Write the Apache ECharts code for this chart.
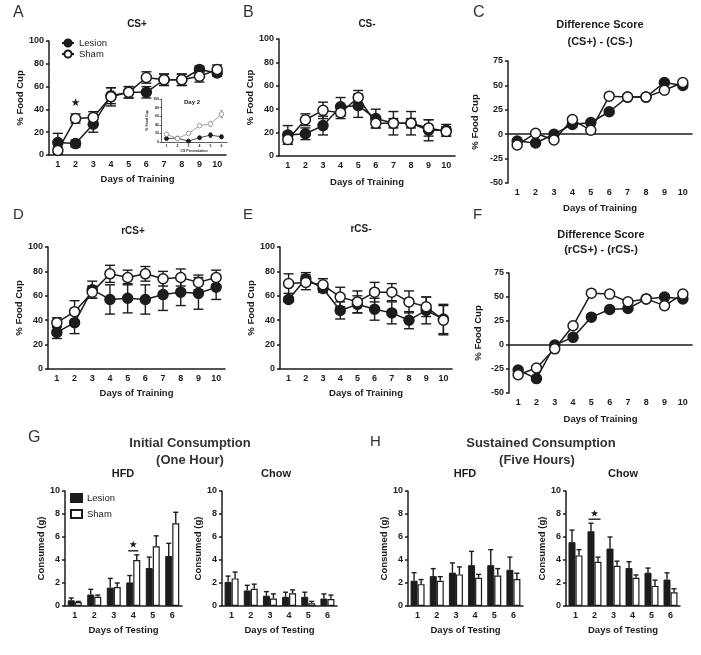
<!DOCTYPE html>
<html><head><meta charset="utf-8">
<script src="https://cdn.jsdelivr.net/npm/echarts@6/dist/echarts.min.js"></script>
<style>html,body{margin:0;padding:0;background:#fff}#c{width:701px;height:655px}</style>
</head><body><div id="c"></div>
<script>
// ---------- categories ----------
const trainingDays = ['1','2','3','4','5','6','7','8','9','10'];
const testingDays = ['1','2','3','4','5','6'];
const csPresentations = ['1','2','3','4','5','6'];
const groupNames = ['Lesion', 'Sham'];

// ---------- A: CS+ ----------
const csPlusLesion = [11,10,27,52,55,55,66,66,75,72];
const csPlusLesionErr = [8,3,7,7,5,5,5,5,3,3];
const csPlusSham = [4,32,33,51,55,68,66,66,69,75];
const csPlusShamErr = [3,4,5,8,5,5,5,5,5,4];
const csPlusSig = [[1, 46]];
// inset: Day 2 by CS presentation
const day2Lesion = [8,9,2,10,16,12];
const day2LesionErr = [3,3,2,3,5,4];
const day2Sham = [18,8,20,38,42,65];
const day2ShamErr = [4,3,3,3,5,8];

// ---------- B: CS- ----------
const csMinusLesion = [18,19,26,42,43,32,28,28,22,22];
const csMinusLesionErr = [8,5,8,8,10,8,10,10,9,5];
const csMinusSham = [14,31,39,37,50,28,28,28,24,21];
const csMinusShamErr = [4,5,7,5,6,4,4,4,7,4];

// ---------- C: difference ----------
const diffLesion = [-7,-9,0,10,12,23,38,38,53,50];
const diffSham = [-11,1,-6,15,4,39,38,38,45,53];

// ---------- D: rCS+ ----------
const rcsPlusLesion = [30,38,65,57,58,57,61,63,62,67];
const rcsPlusLesionErr = [5,9,7,12,12,12,13,11,13,10];
const rcsPlusSham = [38,47,63,78,75,78,74,75,71,75];
const rcsPlusShamErr = [4,9,5,7,6,6,6,7,6,6];

// ---------- E: rCS- ----------
const rcsMinusLesion = [57,74,66,48,53,49,46,40,48,41];
const rcsMinusLesionErr = [2,5,3,7,7,9,9,7,11,12];
const rcsMinusSham = [70,71,69,59,55,63,63,55,51,40];
const rcsMinusShamErr = [8,6,5,8,9,8,7,9,8,12];

// ---------- F: reversal difference ----------
const rdiffLesion = [-26,-35,0,8,29,37,38,48,50,48];
const rdiffSham = [-31,-24,-4,20,54,53,45,48,41,53];

// ---------- G: initial consumption (1 h) ----------
const g1hHfdLesion = [0.5,1.0,1.6,2.05,3.3,4.35];
const g1hHfdLesionErr = [0.2,0.45,0.8,0.6,0.95,1.1];
const g1hHfdSham = [0.35,0.8,1.65,4.0,5.2,7.2];
const g1hHfdShamErr = [0.05,0.15,0.35,0.45,0.9,0.95];
const g1hHfdSig = [[3, 4.8, 5.35]];
const g1hChowLesion = [2.1,1.35,0.9,0.8,0.8,0.65];
const g1hChowLesionErr = [0.5,0.45,0.35,0.4,0.4,0.4];
const g1hChowSham = [2.4,1.5,0.65,1.1,0.25,0.6];
const g1hChowShamErr = [0.55,0.4,0.4,0.3,0.15,0.35];

// ---------- H: sustained consumption (5 h) ----------
const h5hHfdLesion = [2.2,2.6,2.9,3.55,3.55,3.15];
const h5hHfdLesionErr = [0.7,0.65,0.85,1.2,1.35,1.1];
const h5hHfdSham = [1.9,2.2,2.75,2.45,2.65,2.35];
const h5hHfdShamErr = [0.4,0.35,0.65,0.3,0.6,0.5];
const h5hChowLesion = [5.55,6.5,5.0,3.3,2.9,2.3];
const h5hChowLesionErr = [1.05,0.7,1.0,0.55,0.4,0.58];
const h5hChowSham = [4.4,3.85,3.5,2.45,1.75,1.2];
const h5hChowShamErr = [0.5,0.4,0.4,0.25,0.5,0.3];
const h5hChowSig = [[1, 7.55, 8.05]];

// ---------- tick settings ----------
const pctTicks = {min: 0, max: 100, interval: 20};
const diffTicks = {min: -50, max: 75, interval: 25};
const gramTicks = {min: 0, max: 10, interval: 2};

// ---------- building ----------
const FONT = '"Liberation Sans", Arial, Helvetica, sans-serif';
const INK = '#1c1c1c';
const grids = [], xAxes = [], yAxes = [], series = [], graphics = [], legends = [];

function addPanel(c) {
  const gi = grids.length;
  const aw = c.axisW || 1.5;
  const fs = c.fs || 9;
  grids.push({left: c.left, top: c.top, width: c.width, height: c.height, containLabel: false});
  xAxes.push({
    type: 'category', gridIndex: gi, data: c.cats, boundaryGap: true,
    name: c.xName, nameLocation: 'middle', nameGap: c.xNameGap,
    nameTextStyle: {fontFamily: FONT, fontWeight: 'bold', fontSize: c.nameFs || 9.5, color: INK},
    axisLine: {onZero: true, lineStyle: {color: INK, width: aw}},
    axisTick: {alignWithLabel: true, length: c.tickLen || 3, lineStyle: {color: INK, width: aw}},
    axisLabel: {fontFamily: FONT, fontWeight: 'bold', fontSize: fs, color: INK, margin: c.xMargin || 5, interval: 0},
    splitLine: {show: false}
  });
  yAxes.push({
    type: 'value', gridIndex: gi, min: c.ticks.min, max: c.ticks.max, interval: c.ticks.interval,
    name: c.yName, nameLocation: 'middle', nameGap: c.yNameGap, nameRotate: 90,
    nameTextStyle: {fontFamily: FONT, fontWeight: 'bold', fontSize: c.nameFs || 9.5, color: INK},
    axisLine: {show: true, onZero: false, lineStyle: {color: INK, width: aw}},
    axisTick: {show: true, length: c.tickLen || 3, lineStyle: {color: INK, width: aw}},
    axisLabel: {fontFamily: FONT, fontWeight: 'bold', fontSize: fs, color: INK, margin: c.yMargin || 5},
    splitLine: {show: false}
  });
  return gi;
}

function errSeries(gi, vals, errs, o) {
  return {
    type: 'custom', xAxisIndex: gi, yAxisIndex: gi, z: o.z || 1, silent: true,
    data: vals.map((v, i) => [i, v, errs[i]]),
    renderItem: function (params, api) {
      const i = api.value(0), v = api.value(1), e = api.value(2);
      const p = api.coord([i, v]);
      const t = api.coord([i, v + e]);
      const b = api.coord([i, o.upOnly ? v : v - e]);
      const x = p[0] + (o.dx || 0), hw = o.cap / 2;
      const style = {stroke: o.color || INK, lineWidth: o.lw || 1.4, fill: null};
      const ch = [
        {type: 'line', shape: {x1: x, y1: t[1], x2: x, y2: b[1]}, style: style},
        {type: 'line', shape: {x1: x - hw, y1: t[1], x2: x + hw, y2: t[1]}, style: style}
      ];
      if (!o.upOnly) ch.push({type: 'line', shape: {x1: x - hw, y1: b[1], x2: x + hw, y2: b[1]}, style: style});
      return {type: 'group', children: ch};
    }
  };
}

function starPoints(cx, cy, R) {
  const pts = [];
  for (let k = 0; k < 10; k++) {
    const r = k % 2 === 0 ? R : R * 0.42;
    const a = -Math.PI / 2 + k * Math.PI / 5;
    pts.push([cx + r * Math.cos(a), cy + r * Math.sin(a)]);
  }
  return pts;
}

function sigSeries(gi, sig, o) {
  return {
    type: 'custom', xAxisIndex: gi, yAxisIndex: gi, z: 5, silent: true,
    data: sig.map(s => s.length === 2 ? [s[0], null, s[1]] : s),
    renderItem: function (params, api) {
      const i = api.value(0);
      const starY = api.value(2);
      const ch = [];
      const sp = api.coord([i, starY]);
      if (o.line) {
        const lp = api.coord([i, api.value(1)]);
        ch.push({type: 'line', shape: {x1: lp[0] - o.halfLine, y1: lp[1], x2: lp[0] + o.halfLine, y2: lp[1]},
                 style: {stroke: INK, lineWidth: 1.4}});
      }
      ch.push({type: 'polygon', shape: {points: starPoints(sp[0], sp[1], o.R)}, style: {fill: INK}});
      return {type: 'group', children: ch};
    }
  };
}

function lineSeries(gi, name, vals, filled, o) {
  o = o || {};
  const col = o.color || INK;
  return {
    type: 'line', name: name, xAxisIndex: gi, yAxisIndex: gi, data: vals,
    symbol: 'circle', symbolSize: o.size || 10, showAllSymbol: true, z: o.z || 3,
    lineStyle: {color: col, width: o.lw || 1.5},
    itemStyle: {color: filled ? col : '#fff', borderColor: col, borderWidth: o.bw || 1.5},
    emphasis: {disabled: true}
  };
}

function linePanel(c, les, lesErr, sham, shamErr) {
  const gi = addPanel(c);
  if (lesErr) {
    series.push(errSeries(gi, les, lesErr, {cap: c.cap || 10}));
    series.push(errSeries(gi, sham, shamErr, {cap: c.cap || 10}));
  }
  series.push(lineSeries(gi, groupNames[0], les, true));
  series.push(lineSeries(gi, groupNames[1], sham, false, {z: 4}));
  return gi;
}

function barPanel(c, les, lesErr, sham, shamErr) {
  const gi = addPanel(c);
  const bw = 7;
  series.push({type: 'bar', name: groupNames[0] + '|bar', xAxisIndex: gi, yAxisIndex: gi, data: les,
    barWidth: bw, barGap: '0%', z: 2, itemStyle: {color: INK, borderColor: INK, borderWidth: 1}, emphasis: {disabled: true}});
  series.push({type: 'bar', name: groupNames[1] + '|bar', xAxisIndex: gi, yAxisIndex: gi, data: sham,
    barWidth: bw, barGap: '0%', z: 2, itemStyle: {color: '#fff', borderColor: INK, borderWidth: 1.2}, emphasis: {disabled: true}});
  series.push(errSeries(gi, les, lesErr, {cap: 5, dx: -bw / 2, upOnly: true, z: 1}));
  series.push(errSeries(gi, sham, shamErr, {cap: 5, dx: bw / 2, upOnly: true, z: 1}));
  return gi;
}

function txt(text, x, y, size, weight, align, vAlign, color) {
  graphics.push({type: 'text', x: x, y: y, silent: true, z: 10,
    style: {text: text, fill: color || INK, font: (weight || 'bold') + ' ' + size + 'px ' + FONT,
            align: align || 'center', verticalAlign: vAlign || 'middle',
            textAlign: align || 'center', textVerticalAlign: vAlign || 'middle'}});
}

// Panel A
const gA = linePanel({left: 49, top: 41, width: 177, height: 114, cats: trainingDays, ticks: pctTicks,
  xName: 'Days of Training', xNameGap: 19, yName: '% Food Cup', yNameGap: 23},
  csPlusLesion, csPlusLesionErr, csPlusSham, csPlusShamErr);
series.push(sigSeries(gA, csPlusSig, {R: 4.2}));
// inset
const gIn = addPanel({left: 161, top: 99, width: 66, height: 43, cats: csPresentations, ticks: pctTicks,
  xName: 'CS Presentation', xNameGap: 5, yName: '% Food Cup', yNameGap: 6, axisW: 0.7, fs: 3.5, nameFs: 3.5,
  tickLen: 1.5, xMargin: 2, yMargin: 2});
series.push(errSeries(gIn, day2Lesion, day2LesionErr, {cap: 3, lw: 0.7}));
series.push(errSeries(gIn, day2Sham, day2ShamErr, {cap: 3, lw: 0.7, color: '#8a8a8a'}));
series.push(lineSeries(gIn, 'Lesion', day2Lesion, true, {size: 4, lw: 0.8, bw: 0.8}));
series.push(lineSeries(gIn, 'Sham', day2Sham, false, {size: 4.5, lw: 0.8, bw: 0.8, color: '#8a8a8a', z: 4}));

// Panel B
linePanel({left: 279, top: 39, width: 176, height: 117, cats: trainingDays, ticks: pctTicks,
  xName: 'Days of Training', xNameGap: 21, yName: '% Food Cup', yNameGap: 22},
  csMinusLesion, csMinusLesionErr, csMinusSham, csMinusShamErr);
// Panel C
linePanel({left: 508, top: 61, width: 184, height: 122, cats: trainingDays, ticks: diffTicks,
  xName: 'Days of Training', xNameGap: 20, yName: '% Food Cup', yNameGap: 28},
  diffLesion, null, diffSham, null);
// Panel D
linePanel({left: 48, top: 247, width: 177, height: 122, cats: trainingDays, ticks: pctTicks,
  xName: 'Days of Training', xNameGap: 19, yName: '% Food Cup', yNameGap: 23},
  rcsPlusLesion, rcsPlusLesionErr, rcsPlusSham, rcsPlusShamErr);
// Panel E
linePanel({left: 280, top: 247, width: 172, height: 122, cats: trainingDays, ticks: pctTicks,
  xName: 'Days of Training', xNameGap: 19, yName: '% Food Cup', yNameGap: 23},
  rcsMinusLesion, rcsMinusLesionErr, rcsMinusSham, rcsMinusShamErr);
// Panel F
linePanel({left: 509, top: 273, width: 183, height: 120, cats: trainingDays, ticks: diffTicks,
  xName: 'Days of Training', xNameGap: 21, yName: '% Food Cup', yNameGap: 26},
  rdiffLesion, null, rdiffSham, null);

// Panel G
const gG1 = barPanel({left: 65, top: 491, width: 117, height: 115, cats: testingDays, ticks: gramTicks,
  xName: 'Days of Testing', xNameGap: 19, yName: 'Consumed (g)', yNameGap: 18},
  g1hHfdLesion, g1hHfdLesionErr, g1hHfdSham, g1hHfdShamErr);
series.push(sigSeries(gG1, g1hHfdSig, {line: true, halfLine: 5, R: 3.8}));
barPanel({left: 222, top: 491, width: 115, height: 115, cats: testingDays, ticks: gramTicks,
  xName: 'Days of Testing', xNameGap: 19, yName: 'Consumed (g)', yNameGap: 18},
  g1hChowLesion, g1hChowLesionErr, g1hChowSham, g1hChowShamErr);
// Panel H
barPanel({left: 408, top: 491, width: 115, height: 115, cats: testingDays, ticks: gramTicks,
  xName: 'Days of Testing', xNameGap: 19, yName: 'Consumed (g)', yNameGap: 18},
  h5hHfdLesion, h5hHfdLesionErr, h5hHfdSham, h5hHfdShamErr);
const gH2 = barPanel({left: 566, top: 491, width: 114, height: 115, cats: testingDays, ticks: gramTicks,
  xName: 'Days of Testing', xNameGap: 19, yName: 'Consumed (g)', yNameGap: 18},
  h5hChowLesion, h5hChowLesionErr, h5hChowSham, h5hChowShamErr);
series.push(sigSeries(gH2, h5hChowSig, {line: true, halfLine: 6, R: 3.8}));

// legends
legends.push({left: 61, top: 38, orient: 'vertical', selectedMode: false, data: groupNames,
  itemWidth: 12, itemHeight: 9, itemGap: 1, padding: 0,
  textStyle: {fontFamily: FONT, fontSize: 9.5, color: INK}});
legends.push({left: 70, top: 493, orient: 'vertical', selectedMode: false,
  data: groupNames.map(n => ({name: n + '|bar', icon: 'rect'})),
  formatter: n => n.split('|')[0],
  itemWidth: 11, itemHeight: 8, itemGap: 6, padding: 0,
  textStyle: {fontFamily: FONT, fontSize: 9.5, color: INK}});

// titles & letters
txt('A', 13, 5, 16, 'normal', 'left', 'top', '#333');
txt('B', 243, 5, 16, 'normal', 'left', 'top', '#333');
txt('C', 473, 5, 16, 'normal', 'left', 'top', '#333');
txt('D', 13, 207, 15, 'normal', 'left', 'top', '#333');
txt('E', 243, 207, 15, 'normal', 'left', 'top', '#333');
txt('F', 473, 207, 15, 'normal', 'left', 'top', '#333');
txt('G', 28, 430, 16, 'normal', 'left', 'top', '#333');
txt('H', 370, 434, 15, 'normal', 'left', 'top', '#333');
txt('CS+', 137, 24, 10);
txt('CS-', 367, 24, 10);
txt('Difference Score', 600, 25, 11);
txt('(CS+) - (CS-)', 600, 42, 11);
txt('rCS+', 133, 231, 10);
txt('rCS-', 361, 229, 10);
txt('Difference Score', 601, 235, 11);
txt('(rCS+) - (rCS-)', 601, 250, 11);
txt('Day 2', 192, 102, 6);
txt('Initial Consumption', 190, 443, 13, 'bold', 'center', 'middle', '#333');
txt('(One Hour)', 190, 460, 13, 'bold', 'center', 'middle', '#333');
txt('HFD', 123, 474, 11);
txt('Chow', 276, 474, 11);
txt('Sustained Consumption', 541, 443, 13, 'bold', 'center', 'middle', '#333');
txt('(Five Hours)', 537, 460, 13, 'bold', 'center', 'middle', '#333');
txt('HFD', 465, 474, 11);
txt('Chow', 623, 474, 11);

const chart = echarts.init(document.getElementById('c'), null, {renderer: 'canvas'});
chart.setOption({
  animation: false,
  backgroundColor: '#fff',
  grid: grids, xAxis: xAxes, yAxis: yAxes, series: series, legend: legends, graphic: graphics
});
</script></body></html>
